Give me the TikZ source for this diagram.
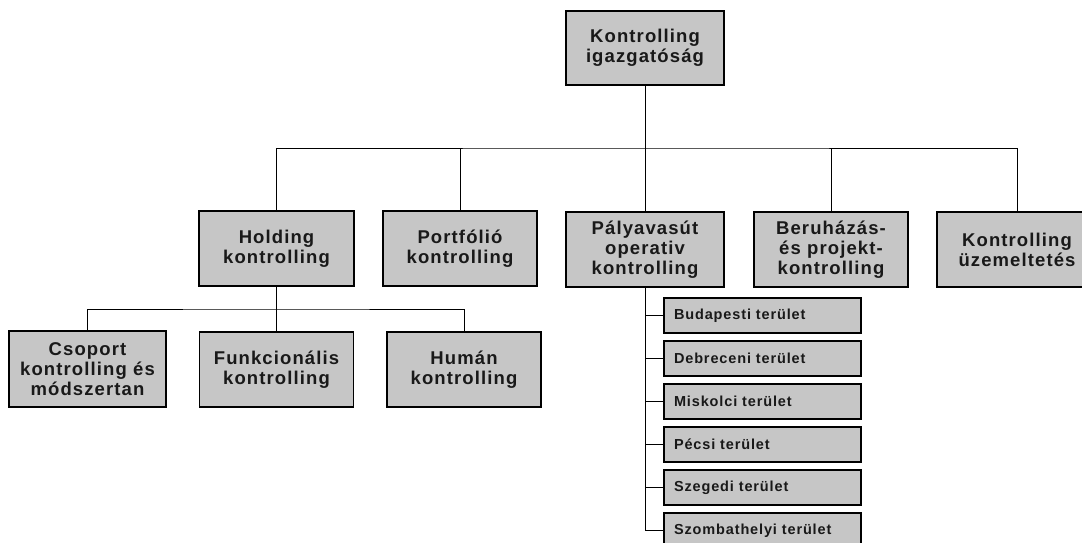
\documentclass[tikz,border=0pt]{standalone}
\usepackage{fontspec}
\setmainfont{Liberation Sans}[LetterSpace=6]
\definecolor{boxgray}{RGB}{198,198,198}
\definecolor{txt}{RGB}{25,25,25}
\begin{document}
\begin{tikzpicture}[x=1pt,y=-1pt,
  bigbox/.style={draw=black, line width=1.4pt, fill=boxgray, align=center, inner sep=0pt,
    text=txt, font=\bfseries\fontsize{18.5}{20}\selectfont, minimum height=75},
  subbox/.style={draw=black, line width=1.4pt, fill=boxgray, align=left, inner xsep=10pt, inner ysep=0pt,
    text width=177, minimum height=35, text=txt, font=\bfseries\fontsize{14.5}{16}\selectfont},
  conn/.style={draw=black, line width=0.9pt}]
\useasboundingbox (0,0) rectangle (1082,543);
\clip (0,0) rectangle (1082,543);
% level 0
\node[bigbox, minimum width=158, minimum height=74] (top) at (645,48) {Kontrolling\\igazgatóság};
% level 1
\node[bigbox, minimum width=155] (holding) at (276.5,248.5) {Holding\\kontrolling};
\node[bigbox, minimum width=154] (portfolio) at (460,248.5) {Portfólió\\kontrolling};
\node[bigbox, minimum width=158] (palya) at (645,249.5) {Pályavasút\\operativ\\kontrolling};
\node[bigbox, minimum width=154] (beruh) at (831,249.5) {Beruházás-\\és projekt-\\kontrolling};
\node[bigbox, minimum width=160] (uzem) at (1017,249.5) {Kontrolling\\üzemeltetés};
% level 2 under holding
\node[bigbox, minimum width=157, minimum height=76] (csoport) at (87.5,369) {Csoport\\kontrolling és\\módszertan};
\node[bigbox, minimum width=154] (funk) at (276.5,369.5) {Funkcionális\\kontrolling};
\node[bigbox, minimum width=154] (human) at (464,369.5) {Humán\\kontrolling};
% regional boxes
\node[subbox] (s1) at (762.5,315.5) {Budapesti terület};
\node[subbox] (s2) at (762.5,358.5) {Debreceni terület};
\node[subbox] (s3) at (762.5,401.5) {Miskolci terület};
\node[subbox] (s4) at (762.5,444.5) {Pécsi terület};
\node[subbox] (s5) at (762.5,487.5) {Szegedi terület};
\node[subbox] (s6) at (762.5,530.5) {Szombathelyi terület};
% buses
\coordinate (bus) at (645,148);
\coordinate (hbus) at (276.5,309);
% connectors
\draw[conn] (top.south) -- (palya.north);
\draw[conn] (holding.north) |- (bus) -| (uzem.north);
\draw[conn] (portfolio.north) -- (portfolio.north |- bus);
\draw[conn] (beruh.north) -- (beruh.north |- bus);
\draw[conn] (holding.south) -- (funk.north);
\draw[conn] (csoport.north) |- (hbus) -| (human.north);
\draw[conn] (palya.south) |- (s6.west);
\draw[conn] (palya.south |- s1.west) -- (s1.west);
\draw[conn] (palya.south |- s2.west) -- (s2.west);
\draw[conn] (palya.south |- s3.west) -- (s3.west);
\draw[conn] (palya.south |- s4.west) -- (s4.west);
\draw[conn] (palya.south |- s5.west) -- (s5.west);
\end{tikzpicture}
\end{document}
